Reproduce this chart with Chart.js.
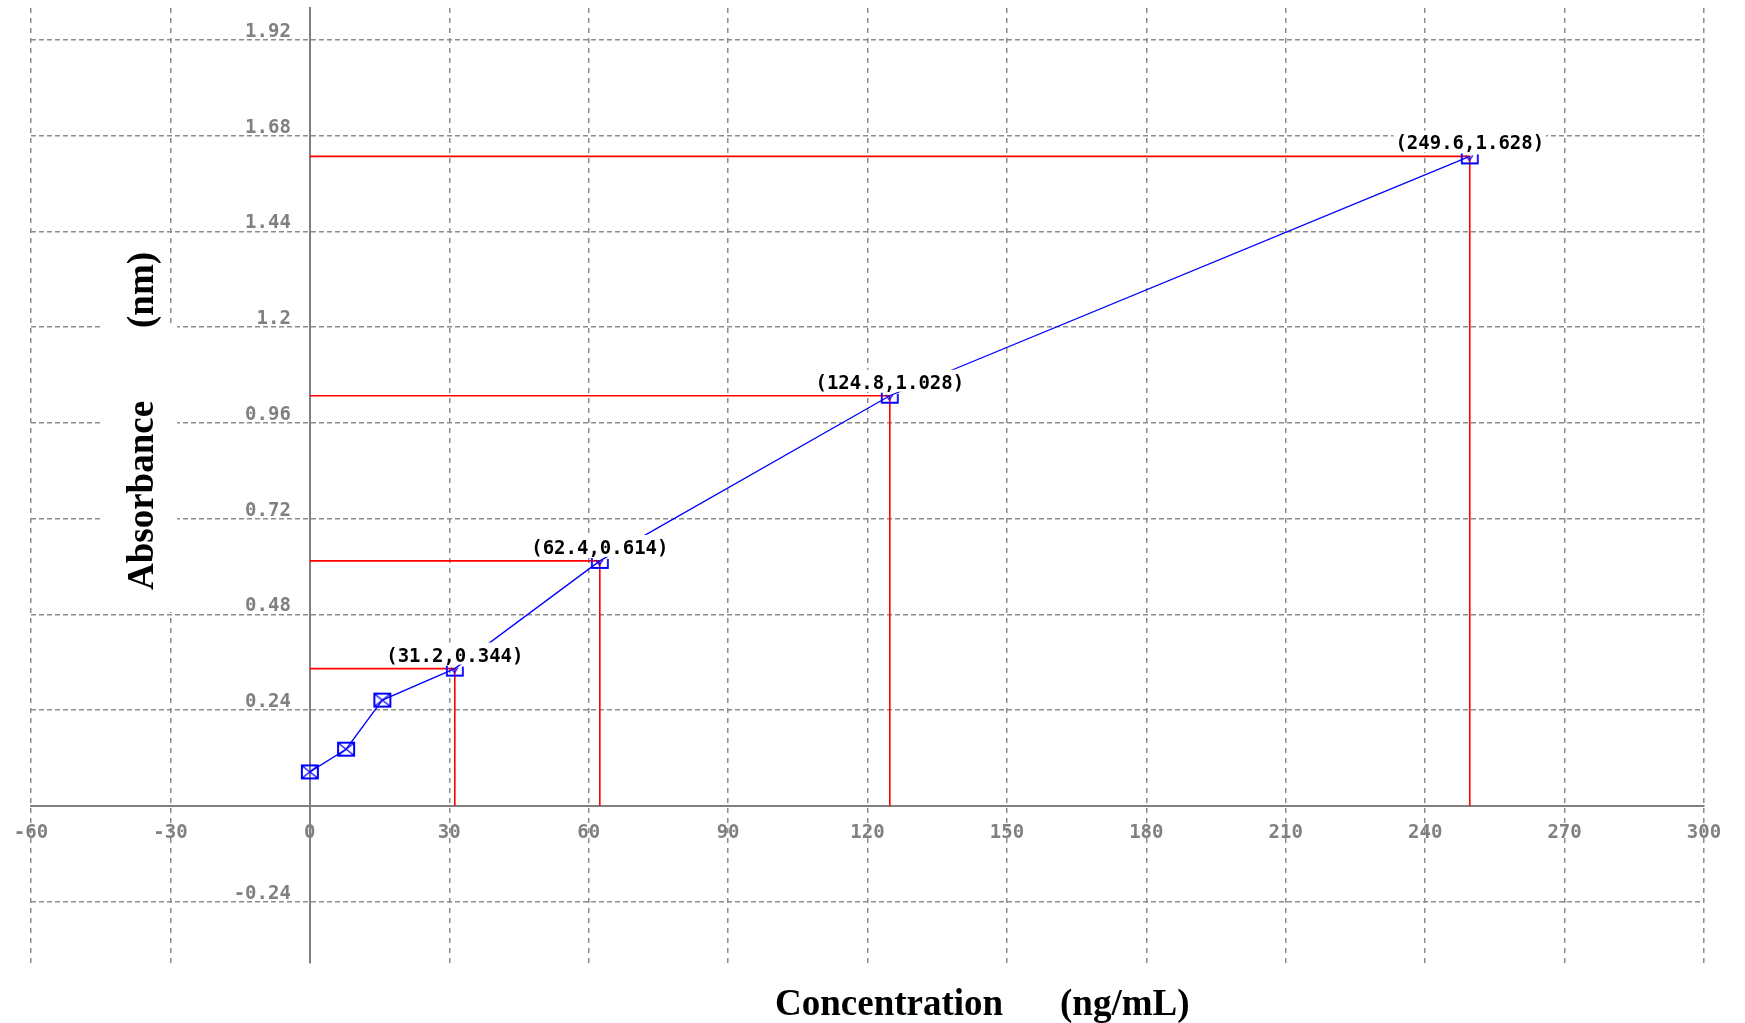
<!DOCTYPE html>
<html>
<head>
<meta charset="utf-8">
<script src="https://cdn.jsdelivr.net/npm/chart.js@4.4.1/dist/chart.umd.min.js"></script>
<style>
  html, body { margin: 0; padding: 0; background: #fff; }
  canvas { display: block; }
</style>
</head>
<body>
<canvas id="calibChart" width="1745" height="1023"></canvas>
<script>
// Calibration curve: absorbance against concentration

const concentration = [0, 7.8, 15.6, 31.2, 62.4, 124.8, 249.6];
const absorbance = [0.085, 0.142, 0.265, 0.344, 0.614, 1.028, 1.628];
const labelledPoints = [3, 4, 5, 6];

const xTicks = [-60, -30, 0, 30, 60, 90, 120, 150, 180, 210, 240, 270, 300];
const xTickLabels = ['-60', '-30', '0', '30', '60', '90', '120', '150', '180', '210', '240', '270', '300'];
const yTicks = [-0.24, 0, 0.24, 0.48, 0.72, 0.96, 1.2, 1.44, 1.68, 1.92];
const yTickLabels = ['-0.24', '', '0.24', '0.48', '0.72', '0.96', '1.2', '1.44', '1.68', '1.92'];

const xTitle = ['Concentration', '(ng/mL)'];
const yTitle = ['Absorbance', '(nm)'];

const GRID = '#8c8c8c';
const AXIS = '#808080';

// square with a cross, used for the unlabelled standards
function boxCrossMarker() {
    const c = document.createElement('canvas');
    c.width = 20;
    c.height = 17;
    const g = c.getContext('2d');
    g.strokeStyle = '#0000ff';
    g.lineWidth = 2;
    g.strokeRect(2, 2, 16, 13);
    g.lineWidth = 1.3;
    g.beginPath();
    g.moveTo(3, 3); g.lineTo(17, 14);
    g.moveTo(17, 3); g.lineTo(3, 14);
    g.stroke();
    return c;
}

// small open box, used for the labelled points
function cupMarker() {
    const c = document.createElement('canvas');
    c.width = 20;
    c.height = 20;
    const g = c.getContext('2d');
    g.strokeStyle = '#0000ff';
    g.lineWidth = 1.8;
    g.beginPath();
    g.moveTo(2, 7); g.lineTo(2, 17); g.lineTo(18, 17); g.lineTo(18, 8);
    g.stroke();
    g.lineWidth = 1.3;
    g.beginPath();
    g.moveTo(6, 9); g.lineTo(9.5, 14); g.lineTo(13, 9);
    g.stroke();
    return c;
}

const boxCross = boxCrossMarker();
const cup = cupMarker();

const points = concentration.map((c, i) => ({ x: c, y: absorbance[i] }));

// red guide lines from each labelled point back to both axes
const dropLines = labelledPoints.map(i => ({
    data: [
        { x: 0, y: absorbance[i] },
        { x: concentration[i], y: absorbance[i] },
        { x: concentration[i], y: 0 }
    ],
    borderColor: '#ff0000',
    borderWidth: 1.6,
    pointRadius: 0,
    tension: 0,
    fill: false
}));

function noPadding(scale) {
    scale.paddingTop = 0;
    scale.paddingBottom = 0;
    scale.paddingLeft = 0;
    scale.paddingRight = 0;
}

const overlay = {
    id: 'overlay',
    afterDatasetsDraw(chart) {
        const { ctx, scales: { x, y } } = chart;
        const x0 = x.getPixelForValue(0);
        ctx.save();

        // y tick labels sit just above their grid line, left of the axis
        ctx.font = 'bold 19px "DejaVu Sans Mono"';
        ctx.fillStyle = AXIS;
        ctx.textAlign = 'right';
        ctx.textBaseline = 'alphabetic';
        yTicks.forEach((v, i) => {
            ctx.fillText(yTickLabels[i], x0 - 19, y.getPixelForValue(v) - 3);
        });

        // axis titles
        ctx.fillStyle = '#fff';
        ctx.fillRect(100, 325, 77, 287);
        ctx.fillStyle = '#000';
        ctx.font = 'bold 37px "Liberation Serif"';
        ctx.textAlign = 'left';
        ctx.fillText(xTitle[0], 775, 1015);
        ctx.fillText(xTitle[1], 1060, 1015);
        ctx.save();
        ctx.translate(153, 590);
        ctx.rotate(-Math.PI / 2);
        ctx.fillText(yTitle[0], 0, 0);
        ctx.restore();
        ctx.save();
        ctx.translate(153, 328);
        ctx.rotate(-Math.PI / 2);
        ctx.fillText(yTitle[1], 0, 0);
        ctx.restore();

        // coordinate labels on a white box
        const meta = chart.getDatasetMeta(0);
        ctx.font = 'bold 19px "DejaVu Sans Mono"';
        ctx.textAlign = 'center';
        labelledPoints.forEach(i => {
            const pt = meta.data[i];
            const text = '(' + concentration[i] + ',' + absorbance[i].toFixed(3) + ')';
            const w = ctx.measureText(text).width;
            const base = pt.y - 7;
            ctx.fillStyle = '#fff';
            ctx.fillRect(pt.x - w / 2 - 2, base - 19, w + 4, 22);
            ctx.fillStyle = '#000';
            ctx.fillText(text, pt.x, base);
        });
        ctx.restore();
    }
};

new Chart(document.getElementById('calibChart'), {
    type: 'line',
    data: {
        datasets: [
            {
                data: points,
                borderColor: '#0000ff',
                borderWidth: 1.3,
                tension: 0,
                fill: false,
                pointRadius: 5,
                pointStyle: concentration.map((_, i) => labelledPoints.includes(i) ? cup : boxCross)
            },
            ...dropLines
        ]
    },
    options: {
        responsive: false,
        devicePixelRatio: 1,
        animation: false,
        layout: { padding: { left: 31, right: 41, top: 8, bottom: 60 } },
        plugins: {
            legend: { display: false },
            tooltip: { enabled: false }
        },
        scales: {
            x: {
                type: 'linear',
                min: -60,
                max: 300,
                position: { y: 0 },
                afterBuildTicks: s => { s.ticks = xTicks.map(v => ({ value: v })); },
                afterFit: noPadding,
                grid: { color: GRID, lineWidth: 1.5, drawTicks: false },
                border: { display: true, color: AXIS, width: 2, dash: [5, 5] },
                ticks: {
                    color: AXIS,
                    font: { family: 'DejaVu Sans Mono', size: 19, weight: 'bold' },
                    padding: 16,
                    maxRotation: 0,
                    autoSkip: false,
                    callback: (v, i) => xTickLabels[i]
                }
            },
            y: {
                type: 'linear',
                min: -0.394,
                max: 2.0,
                position: { x: 0 },
                afterBuildTicks: s => { s.ticks = yTicks.map(v => ({ value: v })); },
                afterFit: noPadding,
                grid: { color: GRID, lineWidth: 1.5, drawTicks: false },
                border: { display: true, color: AXIS, width: 2, dash: [5, 3] },
                ticks: { display: false }
            }
        }
    },
    plugins: [overlay]
});
</script>
</body>
</html>
